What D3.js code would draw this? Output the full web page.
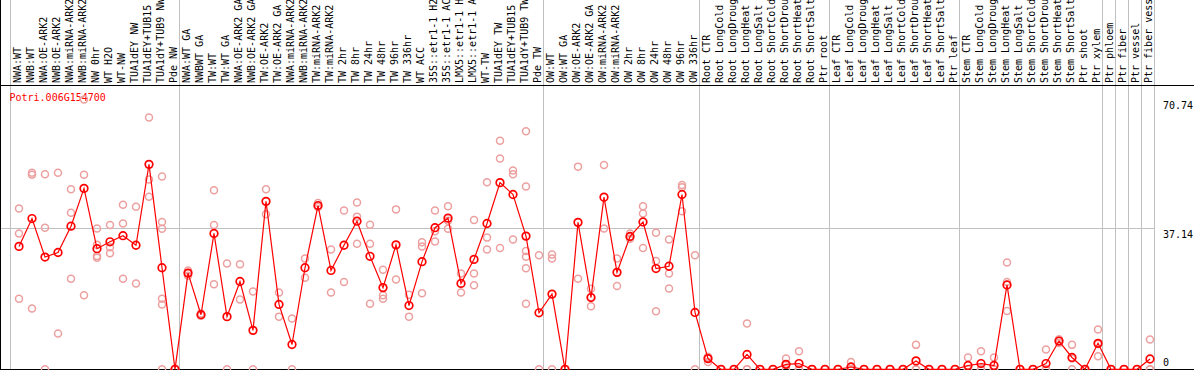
<!DOCTYPE html>
<html>
<head>
<meta charset="utf-8">
<script src="https://cdn.jsdelivr.net/npm/d3@7"></script>
<style>
    body { margin: 0; background: #fff; }
    svg { display: block; }
    text { font-family: "DejaVu Sans Mono", monospace; font-size: 10px; }
</style>
</head>
<body>
<div id="chart"></div>
<script>
// expression profile for one poplar gene across all sample conditions
const geneName = "Potri.006G154700";

// sample labels, as shown (cut to 14 chars like the original)
const sampleLabels = [
    "NWA:WT", "NWB:WT", "NWA:OE-ARK2", "NWB:OE-ARK2", "NWA:miRNA-ARK2", "NWB:miRNA-ARK2",
    "NW 0hr", "WT H2O", "WT-NW", "TUA1dEY NW", "TUA1dEY+TUB15", "TUA1dY+TUB9 NW", "Pde NW",
    "NWA:WT GA", "NWBWT GA", "TW:WT", "TW:WT GA", "NWA:OE-ARK2 GA", "NWB:OE-ARK2 GA",
    "TW:OE-ARK2", "TW:OE-ARK2 GA", "NWA:miRNA-ARK2", "NWB:miRNA-ARK2", "TW:miRNA-ARK2",
    "TW:miRNA-ARK2", "TW 2hr", "TW 8hr", "TW 24hr", "TW 48hr", "TW 96hr", "TW 336hr",
    "WT ACC", "35S::etr1-1 H2", "35S::etr1-1 AC", "LMX5::etr1-1 H", "LMX5::etr1-1 A",
    "WT-TW", "TUA1dEY TW", "TUA1dEY+TUB15", "TUA1dY+TUB9 TW", "Pde TW",
    "OW:WT", "OW:WT GA", "OW:OE-ARK2", "OW:OE-ARK2 GA", "OW:miRNA-ARK2", "OW:miRNA-ARK2",
    "OW 2hr", "OW 8hr", "OW 24hr", "OW 48hr", "OW 96hr", "OW 336hr",
    "Root CTR", "Root LongCold", "Root LongDroug", "Root LongHeat", "Root LongSalt",
    "Root ShortCold", "Root ShortDrou", "Root ShortHeat", "Root ShortSalt", "Ptr root",
    "Leaf CTR", "Leaf LongCold", "Leaf LongDroug", "Leaf LongHeat", "Leaf LongSalt",
    "Leaf ShortCold", "Leaf ShortDrou", "Leaf ShortHeat", "Leaf ShortSalt", "Ptr leaf",
    "Stem CTR", "Stem LongCold", "Stem LongDroug", "Stem LongHeat", "Stem LongSalt",
    "Stem ShortCold", "Stem ShortDrou", "Stem ShortHeat", "Stem ShortSalt", "Ptr shoot", "Ptr xylem",
    "Ptr phloem", "Ptr fiber", "Ptr vessel", "Ptr fiber vess"
];

// how many samples sit in each experiment block (gray separators between them)
const groupSizes = [13, 28, 12, 10, 10, 11, 1, 1, 1, 1];

// mean expression per sample
const meanValues = [
    32.2, 39.5, 29.4, 30.6, 37.5, 47.4, 31.6, 33.4, 35.0, 32.5, 53.7, 26.6, 0,
    25.2, 14.3, 35.6, 13.8, 23.0, 10.2, 44.0, 17.0, 6.5, 26.6, 42.9, 25.9, 32.5, 38.8,
    29.6, 21.4, 32.6, 16.7, 28.2, 37.1, 39.6, 22.5, 28.8, 38.2, 48.9, 45.8, 34.9, 14.8,
    19.7, 0, 38.5, 18.8, 45.1, 25.4, 34.8, 38.6, 26.4, 27.0, 45.8, 14.9,
    2.8, 0, 0, 3.9, 0, 0, 1.3, 1.5, 0, 0,
    0, 0.6, 0, 0, 0, 0, 2.2, 0, 0, 0,
    1.0, 1.5, 1.0, 22.1, 0, 0, 1.5, 7.4, 3.1, 0, 6.8,
    0, 0, 0, 2.7
];

// individual replicates per sample
const replicateValues = [
    [42.1, 35.6, 18.5], [51.5, 51.0, 15.9], [51.1, 37.1, 0], [51.5, 9.4], [47.2, 41.0, 23.7],
    [70.7, 51.0, 19.4], [36.9, 32.6, 29.7, 29.2], [37.8, 32.0, 30.4], [43.1, 38.2, 23.7],
    [42.6, 22.5], [66.0, 49.7, 45.2], [50.5, 38.6, 36.8, 18.5, 17.0, 0], [0, 0, 0],
    [25.9, 24.5, 25.2], [14.6, 14.0, 14.3], [46.9, 37.8, 22.3], [27.7, 0], [27.5, 18.3],
    [20.4, 0], [47.2, 40.6], [20.1, 13.8], [13.3, 0], [29.0, 24.0], [43.6, 42.5, 42.7],
    [31.4, 20.1], [41.6, 22.9], [43.7, 40.0, 32.9], [37.9, 32.9, 17.2], [26.1, 19.4, 18.5],
    [41.9, 23.5], [19.5, 13.8], [33.3, 32.2, 19.9], [41.6, 36.2, 33.5], [42.7, 38.9, 36.8],
    [25.1, 20.1], [39.1, 25.1, 22.0], [49.0, 34.5, 31.4], [59.9, 55.2, 31.8],
    [52.1, 51.1, 34.0], [62.4, 47.9, 31.0, 29.5, 26.5, 17.2], [29.9, 0],
    [30.1, 29.0, 0], [0, 0], [53.1, 23.7], [21.1, 16.5, 18.9], [53.5, 36.9], [29.0, 21.8],
    [35.6, 34.2, 34.7], [42.7, 40.8, 31.8], [35.8, 28.4, 15.2], [34.0, 25.1, 21.2],
    [47.7, 41.4, 48.3], [29.9, 0],
    [3.3, 1.9, 3.0], [0, 0, 0], [0, 0, 0], [12.0, 0, 0], [0, 0, 0], [0, 0, 0],
    [2.8, 0, 1.2], [4.7, 0, 0], [0, 0, 0], [0, 0, 0],
    [0, 0, 0], [1.9, 0, 0], [0, 0, 0], [0, 0, 0], [0, 0, 0], [0, 0, 0],
    [6.4, 0, 0], [0, 0, 0], [0, 0, 0], [0, 0, 0],
    [3.1, 0, 0], [4.7, 0, 0], [3.1, 0, 0], [28.0, 15.3, 22.9], [0, 0, 0], [0, 0, 0],
    [5.2, 0, 0], [7.4, 6.9, 7.9], [6.4, 0, 2.8], [0, 0, 0], [10.4, 3.4, 6.6],
    [0, 0, 0], [0, 0, 0], [0, 0, 0], [7.8, 0, 0]
];

// right-hand axis labels, and which one gets a gridline
const yTickValues = [0, 37.14, 70.74];
const yGridValues = [37.14];

let svgWidth = 1194;
let svgHeight = 370;
let headerBottom = 85;      // black rule under the rotated sample names
let plotLeft = 10;
let colWidth = 13;
let plotBottom = 369.3;
let plotTop = 99.3;

let svg = d3
    .select("#chart")
    .append("svg")
    .attr("width", svgWidth)
    .attr("height", svgHeight);

// x: one 13px column per sample, the point sits a bit right of column centre
let x = d3
    .scaleLinear()
    .domain([0, sampleLabels.length])
    .range([plotLeft, plotLeft + colWidth * sampleLabels.length]);
let pointX = (i) => x(i) + 9;

let y = d3
    .scaleLinear()
    .domain([0, d3.max(yTickValues)])
    .range([plotBottom, plotTop]);

// block separators (cumulative sample counts)
let boundaries = [0];
groupSizes.forEach((n) => boundaries.push(boundaries[boundaries.length - 1] + n));

svg.append("g")
    .selectAll("line")
    .data(boundaries)
    .enter()
    .append("line")
    .attr("x1", (d) => Math.round(x(d)) + 0.5)
    .attr("x2", (d) => Math.round(x(d)) + 0.5)
    .attr("y1", 0)
    .attr("y2", svgHeight)
    .attr("stroke", "#c0c0c0")
    .attr("stroke-width", 1);

// horizontal gridline(s)
svg.append("g")
    .selectAll("line")
    .data(yGridValues)
    .enter()
    .append("line")
    .attr("x1", 0)
    .attr("x2", x(sampleLabels.length) + 1)
    .attr("y1", (d) => Math.round(y(d)) + 0.5)
    .attr("y2", (d) => Math.round(y(d)) + 0.5)
    .attr("stroke", "#c0c0c0")
    .attr("stroke-width", 1);

// frame: left edge, header rule, bottom rule
svg.append("line")
    .attr("x1", 0.5).attr("x2", 0.5)
    .attr("y1", 0).attr("y2", svgHeight)
    .attr("stroke", "#000");
svg.append("line")
    .attr("x1", 0).attr("x2", svgWidth)
    .attr("y1", headerBottom + 0.5).attr("y2", headerBottom + 0.5)
    .attr("stroke", "#000");
svg.append("line")
    .attr("x1", 0).attr("x2", svgWidth)
    .attr("y1", 369.5).attr("y2", 369.5)
    .attr("stroke", "#000");

// rotated sample names
svg.append("g")
    .selectAll("text")
    .data(sampleLabels)
    .enter()
    .append("text")
    .attr("transform", (d, i) => `translate(${x(i) + 10.5}, ${headerBottom - 2}) rotate(-90)`)
    .attr("fill", "#000")
    .text((d) => d);

// gene name
svg.append("text")
    .attr("x", 9.5)
    .attr("y", 100.5)
    .attr("fill", "#ff0000")
    .text(geneName);

// right-hand value labels
svg.append("g")
    .selectAll("text")
    .data(yTickValues)
    .enter()
    .append("text")
    .attr("x", 1163)
    .attr("y", (d) => Math.min(y(d) + 10, 366))
    .attr("fill", "#000")
    .text((d) => d);

// replicate circles (faded)
let repPoints = [];
replicateValues.forEach((reps, i) => {
    reps.forEach((v) => repPoints.push([i, v]));
});
svg.append("g")
    .selectAll("circle")
    .data(repPoints)
    .enter()
    .append("circle")
    .attr("cx", (d) => pointX(d[0]))
    .attr("cy", (d) => y(d[1]))
    .attr("r", 3.5)
    .attr("fill", "none")
    .attr("stroke", "#eda0a0")
    .attr("stroke-width", 1.5);

// mean line
let line = d3
    .line()
    .x((d, i) => pointX(i))
    .y((d) => y(d));
svg.append("path")
    .datum(meanValues)
    .attr("d", line)
    .attr("fill", "none")
    .attr("stroke", "#ff0000")
    .attr("stroke-width", 1.2);

// mean circles
svg.append("g")
    .selectAll("circle")
    .data(meanValues)
    .enter()
    .append("circle")
    .attr("cx", (d, i) => pointX(i))
    .attr("cy", (d) => y(d))
    .attr("r", 3.8)
    .attr("fill", "none")
    .attr("stroke", "#ff0000")
    .attr("stroke-width", 1.7);
</script>
</body>
</html>
